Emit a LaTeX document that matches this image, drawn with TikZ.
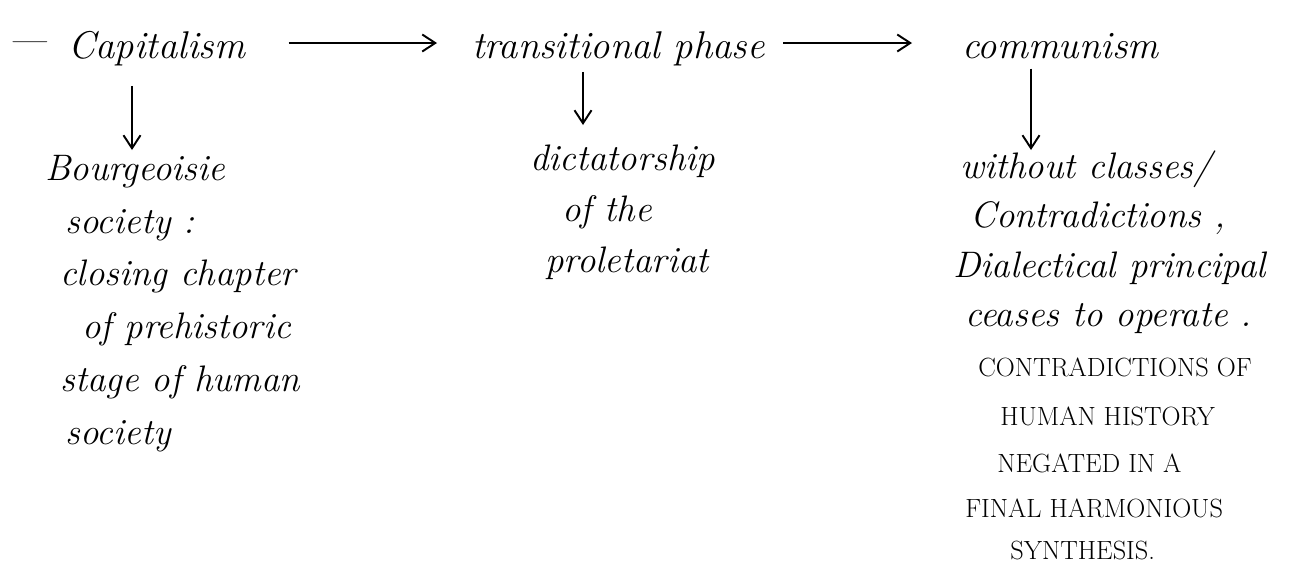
\documentclass[tikz,border=0pt]{standalone}
\usepackage{fontspec}
\usetikzlibrary{arrows.meta,positioning}
\newcommand\handfont{\fontsize{21}{30}\selectfont\itshape}
\newcommand\capsfont{\fontsize{15}{25}\selectfont\upshape}
\tikzset{
  stagebox/.style={inner sep=0pt, anchor=base west, font=\fontsize{22}{26}\selectfont\itshape},
  notebox/.style={inner sep=0pt, anchor=north west, align=left, font=\handfont},
  arr/.style={-{Straight Barb[length=2.6mm,width=3.4mm]}, line width=1.1pt},
}

\begin{document}
\begin{tikzpicture}[x=0.02cm, y=-0.02cm]
  \useasboundingbox (0,0) rectangle (1309,572);
  % stages
  \node[stagebox] (bullet) at (8,52) {---};
  \node[stagebox] (cap) at (68,58) {Capitalism};
  \node[stagebox] (trans) at (472,58) {transitional phase};
  \node[stagebox] (comm) at (962,58) {communism};
  % notes under each stage
  \node[notebox] (bour) at (45,155) {Bourgeoisie\\
    \hspace*{0.4cm}society :\\
    \hspace*{0.3cm}closing chapter\\
    \hspace*{0.74cm}of prehistoric\\
    \hspace*{0.3cm}stage of human\\
    \hspace*{0.4cm}society};
  \node[notebox, font=\fontsize{21}{29}\selectfont\itshape] (dict) at (530,145) {dictatorship\\
    \hspace*{0.64cm}of the\\
    \hspace*{0.3cm}proletariat};
  \node[notebox, font=\fontsize{21}{28.2}\selectfont\itshape] (nocls) at (953,150) {\hspace*{0.14cm}without classes/\\
    \hspace*{0.34cm}Contradictions ,\\
    Dialectical principal\\
    \hspace*{0.24cm}ceases to operate .\\
    \hspace*{0.5cm}{\capsfont CONTRADICTIONS OF}\\
    \hspace*{0.94cm}{\capsfont HUMAN HISTORY}\\[-1.7pt]
    \hspace*{0.88cm}{\capsfont NEGATED IN A}\\[-2.3pt]
    \hspace*{0.24cm}{\capsfont FINAL HARMONIOUS}\\[-4.5pt]
    \hspace*{1.14cm}{\capsfont SYNTHESIS.}};
  % arrows
  \coordinate (rowy) at (0,43);
  \coordinate (capx) at (132,0);
  \coordinate (transx) at (583,0);
  \coordinate (commx) at (1031,0);
  \draw[arr, shorten <=0.86cm, shorten >=0.7cm] (cap.east |- rowy) -- (trans.west |- rowy);
  \draw[arr, shorten <=0.36cm, shorten >=1cm] (trans.east |- rowy) -- (comm.west |- rowy);
  \draw[arr, shorten <=0.4cm, shorten >=0.1cm] (cap.south -| capx) -- (bour.north -| capx);
  \draw[arr, shorten <=0.12cm, shorten >=0.4cm] (trans.south -| transx) -- (dict.north -| transx);
  \draw[arr, shorten <=0.2cm] (comm.south -| commx) -- (nocls.north -| commx);
\end{tikzpicture}
\end{document}
